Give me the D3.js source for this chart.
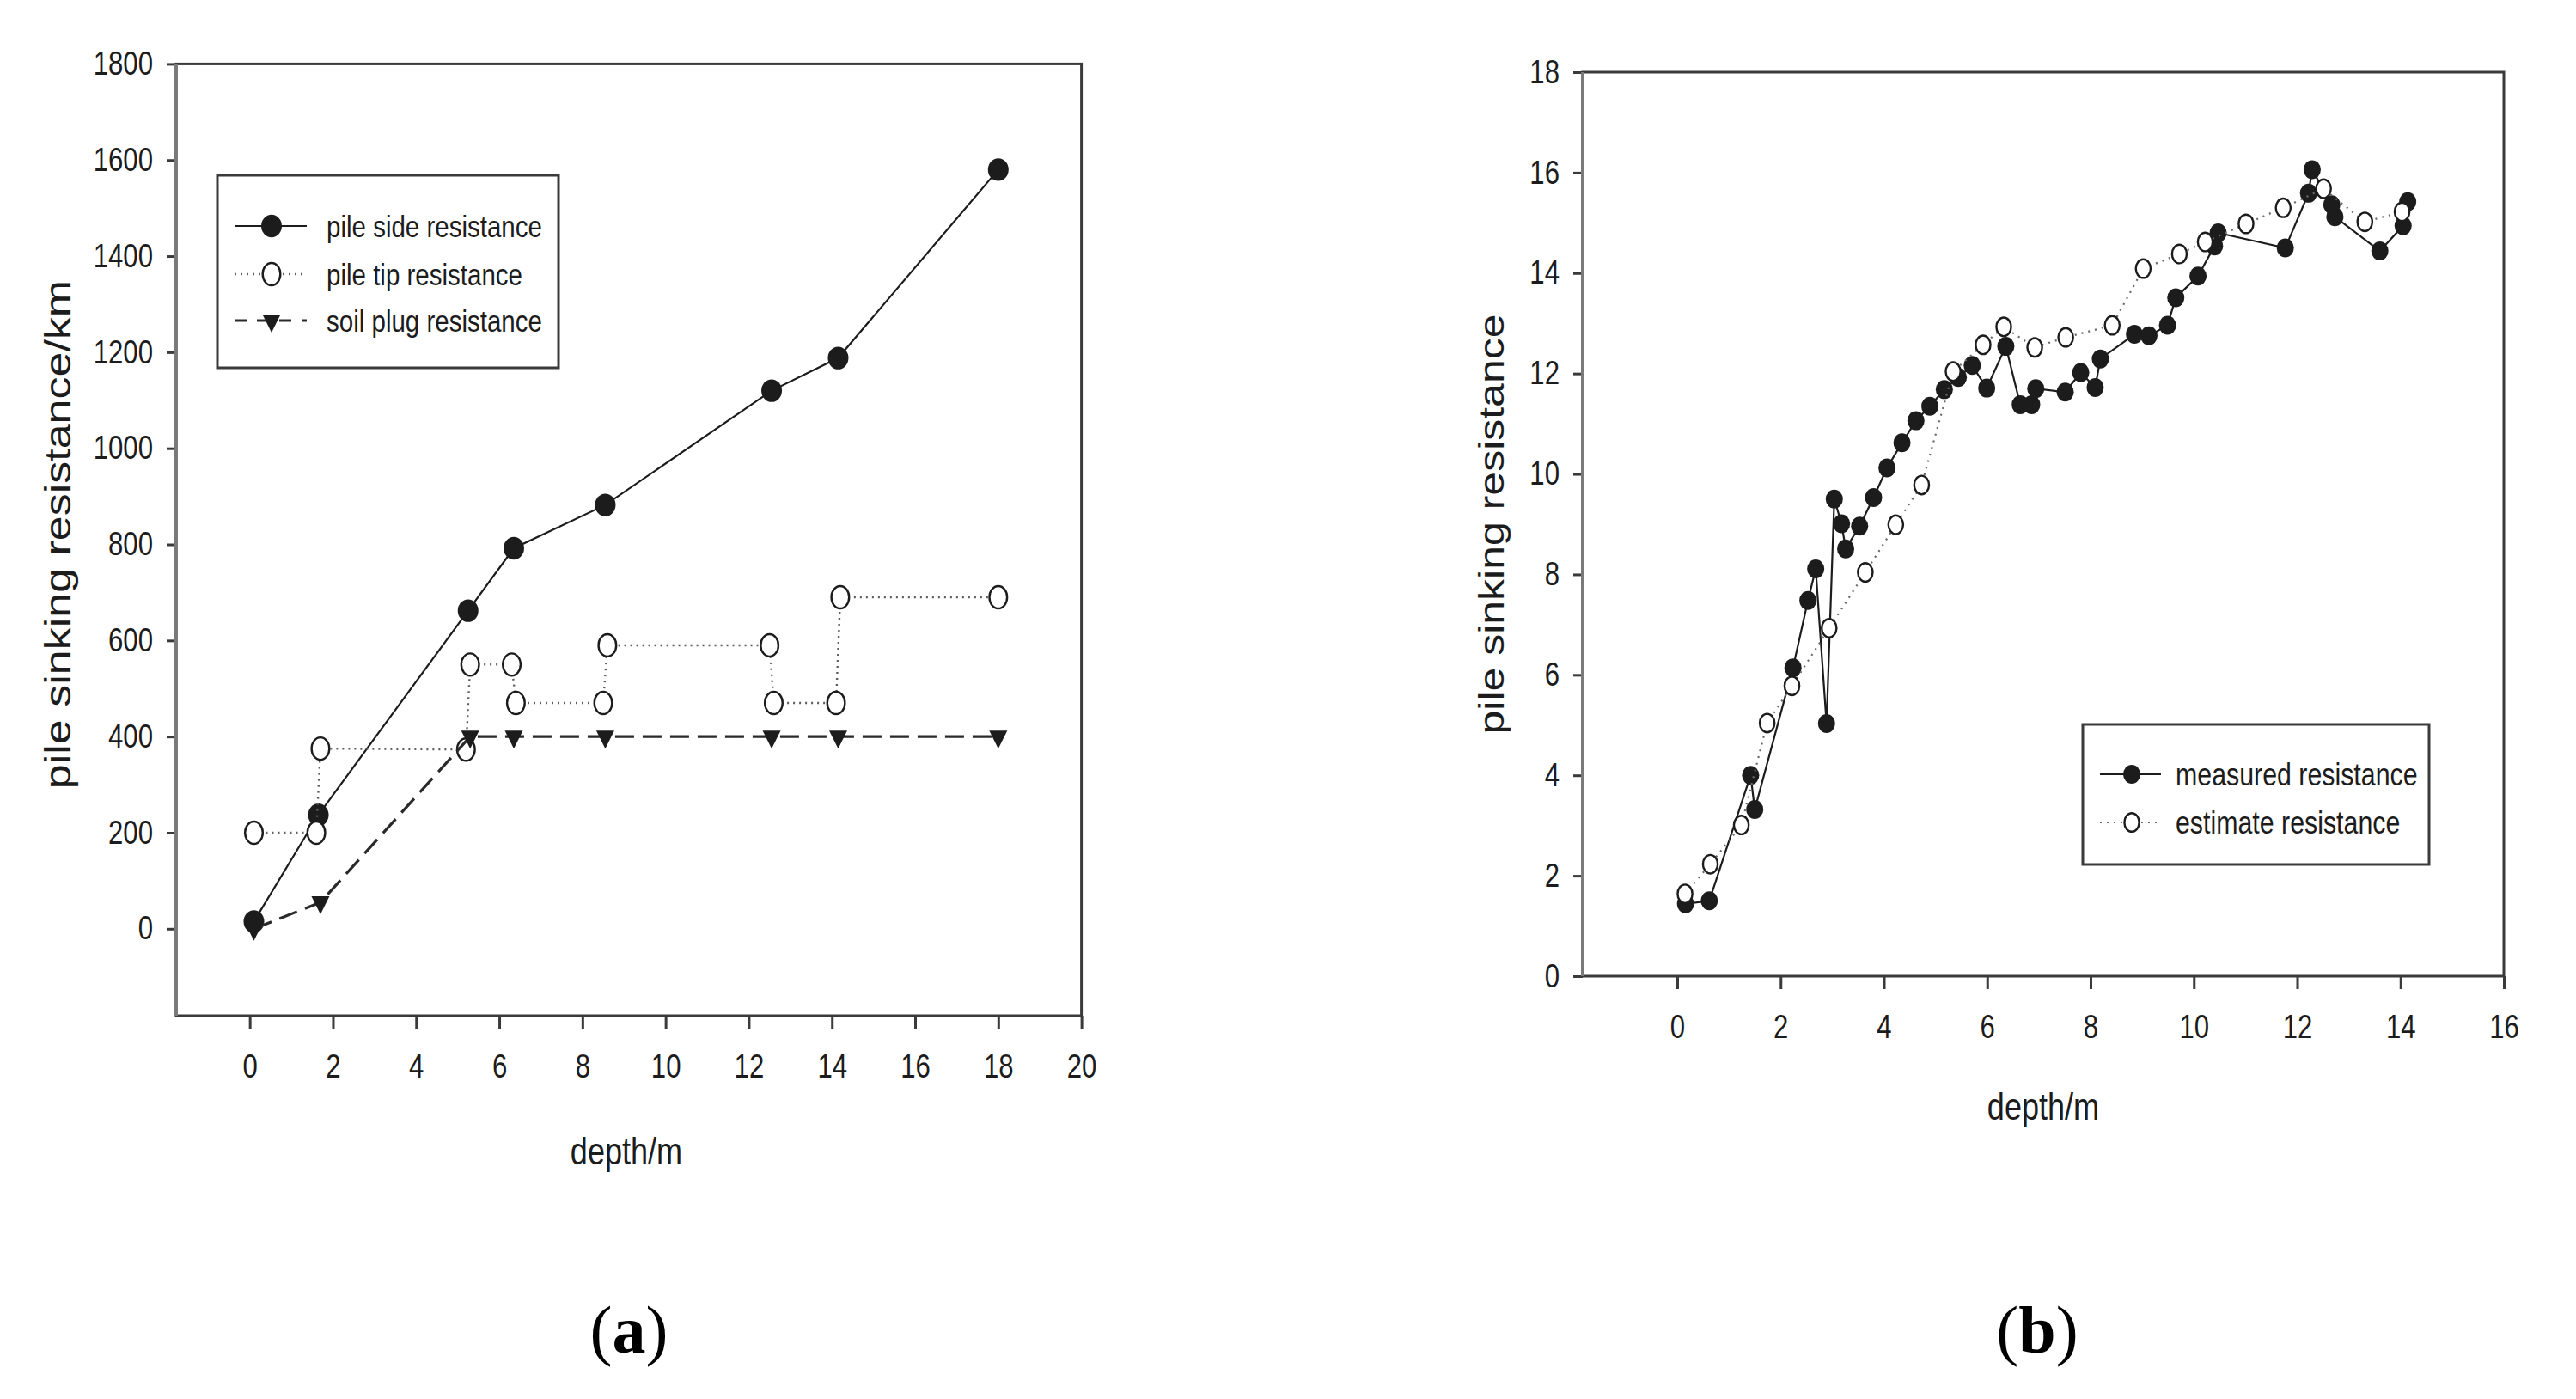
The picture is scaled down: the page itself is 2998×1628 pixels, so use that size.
<!DOCTYPE html>
<html>
<head>
<meta charset="utf-8">
<script src="https://cdn.jsdelivr.net/npm/d3@7"></script>
<style>
  body { margin: 0; background: #fff; }
  svg text { font-family: 'Liberation Sans', Arial, sans-serif; fill: #1c1c1c; }
</style>
</head>
<body>
<svg id="fig" width="2998" height="1628"></svg>
<script>
// Panel (a): pile sinking resistance components vs depth
const sideDepth = [0.1, 1.65, 5.25, 6.35, 8.55, 12.55, 14.15, 18.0];
const sideRes   = [15, 237, 662, 792, 882, 1120, 1188, 1580];

const tipDepth = [0.1, 1.6, 1.7, 5.2, 5.3, 6.3, 6.4, 8.5, 8.6, 12.5, 12.6, 14.1, 14.2, 18.0];
const tipRes   = [200, 200, 375, 373, 550, 550, 470, 470, 590, 590, 470, 470, 690, 690];

const plugDepth = [0.1, 1.7, 5.3, 6.35, 8.55, 12.55, 14.15, 18.0];
const plugRes   = [0, 55, 400, 400, 400, 400, 400, 400];

const aTicksX = [0, 2, 4, 6, 8, 10, 12, 14, 16, 18, 20];
const aTicksY = [0, 200, 400, 600, 800, 1000, 1200, 1400, 1600, 1800];

// Panel (b): measured vs estimated resistance
const measuredDepth = [0.16, 0.62, 1.42, 1.50, 2.24, 2.53, 2.68, 2.89, 3.04, 3.18, 3.26, 3.53, 3.80,
  4.06, 4.35, 4.62, 4.89, 5.17, 5.44, 5.71, 5.99, 6.36, 6.64, 6.86, 6.94, 7.51, 7.81, 8.09, 8.19,
  8.85, 9.13, 9.49, 9.65, 10.08, 10.40, 10.47, 11.77, 12.22, 12.29, 12.67, 12.73, 13.60, 14.05, 14.14];
const measuredRes = [1.44, 1.50, 4.00, 3.32, 6.14, 7.48, 8.11, 5.03, 9.50, 9.01, 8.51, 8.96, 9.53,
  10.12, 10.62, 11.06, 11.35, 11.68, 11.92, 12.16, 11.71, 12.54, 11.38, 11.38, 11.70, 11.63, 12.02, 11.72, 12.29,
  12.78, 12.75, 12.96, 13.51, 13.94, 14.54, 14.80, 14.50, 15.59, 16.06, 15.36, 15.12, 14.44, 14.94, 15.42];

const estimateDepth = [0.15, 0.64, 1.24, 1.74, 2.22, 2.94, 3.64, 4.23, 4.73, 5.34, 5.92, 6.32,
  6.92, 7.52, 8.42, 9.02, 9.72, 10.22, 11.01, 11.73, 12.51, 13.31, 14.03];
const estimateRes = [1.64, 2.23, 3.01, 5.04, 5.78, 6.93, 8.04, 8.99, 9.78, 12.04, 12.57, 12.93,
  12.52, 12.72, 12.96, 14.09, 14.38, 14.62, 14.98, 15.30, 15.68, 15.02, 15.22];

const bTicksX = [0, 2, 4, 6, 8, 10, 12, 14, 16];
const bTicksY = [0, 2, 4, 6, 8, 10, 12, 14, 16, 18];

// the source figure has horizontally squeezed lettering
const SQUEEZE = 0.82;
const INK = '#1c1c1c';
const FRAME = '#3a3a3a';

const svg = d3.select('#fig');
svg.append('rect').attr('width', 2998).attr('height', 1628).attr('fill', '#fff');

// marker drawing
function marker(g, type, cx, cy, big) {
  const s = big ? 1.2 : 1;
  if (type === 'filled') {
    g.append('ellipse').attr('cx', cx).attr('cy', cy)
        .attr('rx', 10 * s).attr('ry', 11 * s).attr('fill', INK);
  } else if (type === 'open') {
    g.append('ellipse').attr('cx', cx).attr('cy', cy)
        .attr('rx', 8.6 * s).attr('ry', 10.8 * s)
        .attr('fill', '#fff').attr('stroke', INK).attr('stroke-width', 2.4);
  } else if (type === 'tri') {
    g.append('path')
        .attr('d', `M${cx - 10.5},${cy - 7}L${cx + 10.5},${cy - 7}L${cx},${cy + 14}Z`)
        .attr('fill', INK);
  }
}

function drawPanel(p) {
  const x = d3.scaleLinear().domain(p.xDomain).range(p.xRange);
  const y = d3.scaleLinear().domain(p.yDomain).range(p.yRange);
  const g = svg.append('g');
  const fmt = d3.format('d');

  // axes
  const xAxis = g.append('g')
      .attr('transform', `translate(0,${p.yRange[0]})`)
      .call(d3.axisBottom(x).tickValues(p.xTicks).tickFormat(fmt).tickSize(15).tickPadding(30));
  const yAxis = g.append('g')
      .attr('transform', `translate(${p.xRange[0]},0)`)
      .call(d3.axisLeft(y).tickValues(p.yTicks).tickFormat(fmt).tickSize(11).tickPadding(16));

  [xAxis, yAxis].forEach(a => {
    a.attr('font-size', 38).attr('font-family', null);
    a.select('.domain').remove();
    a.selectAll('line').attr('stroke', FRAME).attr('stroke-width', 3);
    a.selectAll('text').attr('fill', INK);
  });
  xAxis.selectAll('text').attr('transform', `scale(${SQUEEZE},1)`);
  yAxis.selectAll('text')
      .attr('x', -27 / SQUEEZE)
      .attr('transform', `scale(${SQUEEZE},1)`);

  // plot frame
  g.append('rect')
      .attr('x', p.xRange[0]).attr('y', p.yRange[1])
      .attr('width', p.xRange[1] - p.xRange[0])
      .attr('height', p.yRange[0] - p.yRange[1])
      .attr('fill', 'none').attr('stroke', FRAME).attr('stroke-width', 3);
  g.append('line')
      .attr('x1', p.xRange[0]).attr('x2', p.xRange[0])
      .attr('y1', p.yRange[0]).attr('y2', p.yRange[1])
      .attr('stroke', '#7a7a7a').attr('stroke-width', 4);

  // series
  const line = d3.line().x(d => x(d[0])).y(d => y(d[1]));
  p.series.forEach(s => {
    const pts = d3.zip(s.depth, s.value);
    g.append('path')
        .datum(pts)
        .attr('d', line)
        .attr('fill', 'none')
        .attr('stroke', s.stroke)
        .attr('stroke-width', s.width)
        .attr('stroke-dasharray', s.dash);
    const mg = g.append('g');
    pts.forEach(d => marker(mg, s.marker, x(d[0]), y(d[1]), p.big));
  });

  // axis titles
  g.append('text')
      .attr('transform', `translate(${p.xTitle[0]},${p.xTitle[1]}) scale(${SQUEEZE},1)`)
      .attr('text-anchor', 'middle')
      .attr('font-size', 44)
      .text('depth/m');
  g.append('text')
      .attr('transform', `translate(${p.yTitle[0]},${p.yTitle[1]}) scale(0.8,1) rotate(-90)`)
      .attr('text-anchor', 'middle')
      .attr('font-size', p.yTitleSize)
      .text(p.yLabel);

  // legend
  const L = p.legend;
  const lg = g.append('g');
  lg.append('rect')
      .attr('x', L.box[0]).attr('y', L.box[1])
      .attr('width', L.box[2] - L.box[0]).attr('height', L.box[3] - L.box[1])
      .attr('fill', '#fff').attr('stroke', FRAME).attr('stroke-width', 3);
  p.series.forEach((s, i) => {
    const ry = L.rows[i];
    lg.append('line')
        .attr('x1', L.sample[0]).attr('x2', L.sample[2])
        .attr('y1', ry).attr('y2', ry)
        .attr('stroke', s.stroke).attr('stroke-width', s.width)
        .attr('stroke-dasharray', s.legendDash || s.dash);
    marker(lg, s.marker, L.sample[1], ry, p.big);
    lg.append('text')
        .attr('transform', `translate(${L.textX},${ry}) scale(${SQUEEZE},1)`)
        .attr('dy', '0.35em')
        .attr('font-size', L.fontSize)
        .text(s.name);
  });
}

drawPanel({
  xDomain: [-1.77, 20], xRange: [205, 1258.6],
  yDomain: [-181, 1800], yRange: [1182, 74.4],
  xTicks: aTicksX, yTicks: aTicksY,
  big: true,
  xTitle: [729, 1355], yTitle: [82, 622], yTitleSize: 52,
  yLabel: 'pile sinking resistance/km',
  series: [
    { name: 'pile side resistance', depth: sideDepth, value: sideRes,
      marker: 'filled', stroke: INK, width: 2.2, dash: null },
    { name: 'pile tip resistance', depth: tipDepth, value: tipRes,
      marker: 'open', stroke: '#5e5e5e', width: 2.4, dash: '2,5' },
    { name: 'soil plug resistance', depth: plugDepth, value: plugRes,
      marker: 'tri', stroke: '#2a2a2a', width: 3.2, dash: '22,10', legendDash: '14,12' }
  ],
  legend: { box: [253, 204, 650, 428], rows: [263, 319, 373],
            sample: [273, 316, 357], textX: 380, fontSize: 36 }
});

drawPanel({
  xDomain: [-1.83, 16], xRange: [1842, 2914],
  yDomain: [0, 18], yRange: [1136, 84],
  xTicks: bTicksX, yTicks: bTicksY,
  big: false,
  xTitle: [2378, 1303], yTitle: [1750, 610], yTitleSize: 50,
  yLabel: 'pile sinking resistance',
  series: [
    { name: 'measured resistance', depth: measuredDepth, value: measuredRes,
      marker: 'filled', stroke: INK, width: 2.2, dash: null },
    { name: 'estimate resistance', depth: estimateDepth, value: estimateRes,
      marker: 'open', stroke: '#6a6a6a', width: 2.2, dash: '2,6' }
  ],
  legend: { box: [2424, 843, 2827, 1006], rows: [901, 957],
            sample: [2444, 2481, 2515], textX: 2532, fontSize: 37 }
});

// sub-figure captions
[['a', 732], ['b', 2371]].forEach(([letter, cx]) => {
  const t = svg.append('text')
      .attr('x', cx).attr('y', 1574)
      .attr('text-anchor', 'middle')
      .attr('font-size', 78)
      .style('font-family', "'Liberation Serif', 'Times New Roman', serif")
      .style('fill', '#000');
  t.append('tspan').text('(');
  t.append('tspan').attr('font-weight', 'bold').text(letter);
  t.append('tspan').text(')');
});
</script>
</body>
</html>
